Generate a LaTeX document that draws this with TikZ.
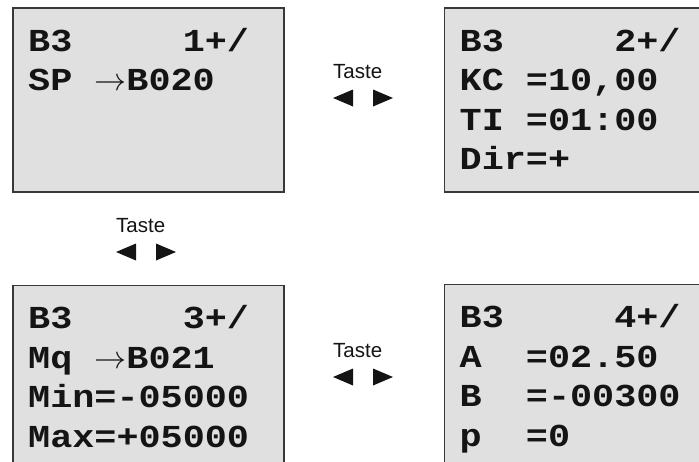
\RequirePackage{fix-cm}
\documentclass[tikz,border=0pt]{standalone}
\usepackage{fontspec}
\usepackage{tikz}
\usetikzlibrary{positioning}
\newfontfamily\lcdfont[FakeStretch=1.15]{Liberation Mono}
\newfontfamily\keyfont{Liberation Sans}
\definecolor{ScreenFill}{gray}{0.88}
\definecolor{ScreenEdge}{gray}{0.22}
\definecolor{ScreenInk}{gray}{0.08}
\newcommand{\Gap}[1]{\hspace{#1\fontcharwd\font`0}}
\newcommand{\KeyPair}[1]{%
  \fill[ScreenInk] ([yshift=-20pt]#1.base west) -- ++(20,-8.5) -- ++(0,17) -- cycle;
  \fill[ScreenInk] ([shift={(40pt,-20pt)}]#1.base west) -- ++(0,-8.5) -- ++(20,8.5) -- ++(-20,8.5) -- cycle;%
}
\tikzset{
  screen/.style={draw=ScreenEdge,line width=1.5pt,fill=ScreenFill,inner sep=0pt,
    minimum width=271pt,minimum height=184pt,anchor=north west},
  lcdtext/.style={font=\lcdfont\bfseries\fontsize{32}{39.5}\selectfont,text=ScreenInk,
    align=left,inner sep=0pt,anchor=north west},
  keylabel/.style={font=\keyfont\fontsize{20.5}{22}\selectfont,text=ScreenInk,inner sep=0pt,anchor=base west},
}
\begin{document}
\begin{tikzpicture}[x=1pt,y=-1pt]
  \clip (0,0) rectangle (699,461);

  \node[screen] (b1) at (12,7) {};
  \node[screen,right=159pt of b1] (b2) {};
  \node[screen,below=92pt of b1] (b3) {};
  \node[screen,below=91pt of b2] (b4) {};

  \node[lcdtext] (b1text) at ([shift={(16pt,-16pt)}]b1.north west)
    {\rule{0pt}{28pt}B3\Gap{5}1+/\\SP\Gap{1}$\rightarrow$B020};
  \node[lcdtext] (b2text) at ([shift={(16pt,-16pt)}]b2.north west)
    {\rule{0pt}{28pt}B3\Gap{5}2+/\\KC\Gap{1}=10,00\\TI\Gap{1}=01:00\\Dir=+};
  \node[lcdtext] (b3text) at ([shift={(16pt,-16pt)}]b3.north west)
    {\rule{0pt}{28pt}B3\Gap{5}3+/\\Mq\Gap{1}$\rightarrow$B021\\Min=-05000\\Max=+05000};
  \node[lcdtext] (b4text) at ([shift={(16pt,-16pt)}]b4.north west)
    {\rule{0pt}{28pt}B3\Gap{5}4+/\\A\Gap{2}=02.50\\B\Gap{2}=-00300\\p\Gap{2}=0};

  % key hints between the screens
  \node[keylabel] (t1) at (333,78) {Taste};
  \KeyPair{t1}
  \node[keylabel] (t2) at (116,232) {Taste};
  \KeyPair{t2}
  \node[keylabel] (t3) at (333,357) {Taste};
  \KeyPair{t3}
\end{tikzpicture}
\end{document}
